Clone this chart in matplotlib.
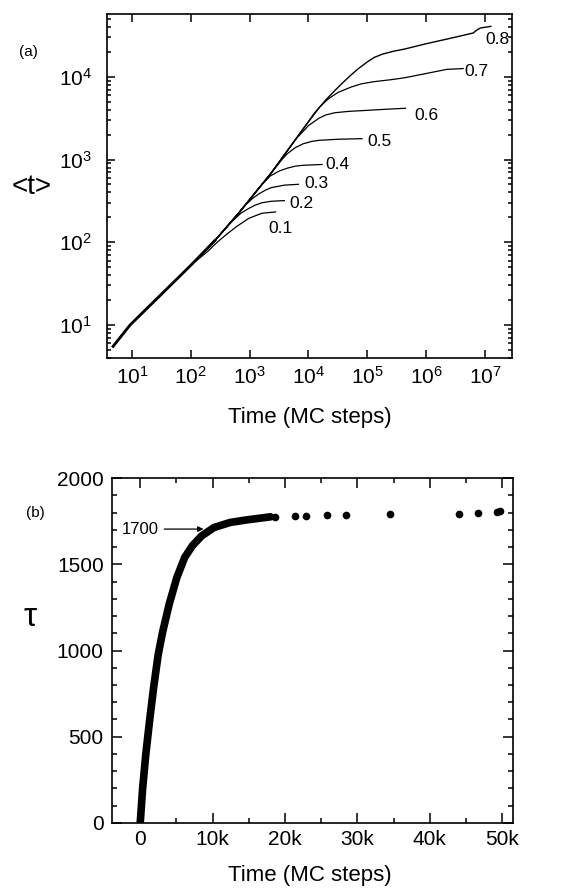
import numpy as np
import matplotlib
matplotlib.use("Agg")
import matplotlib.pyplot as plt
from matplotlib.ticker import MultipleLocator, FuncFormatter, FixedLocator, LogFormatterSciNotation

plt.rcParams["font.family"] = ["Liberation Sans", "DejaVu Sans"]

# ---- panel (a): log10(time) and log10(<t>) ----
# shared early part, continuing as the 0.8 curve
master_lx = [0.68, 0.97, 1.5, 2.0, 2.41, 2.83, 3.37, 3.91, 4.18, 4.3, 4.45, 4.6,
             4.72, 4.85, 4.99, 5.12, 5.26, 5.45, 5.63, 6.0, 6.5, 6.8, 6.85, 6.92, 7.1]
master_ly = [0.74, 1.0, 1.37, 1.72, 2.02, 2.365, 2.84, 3.37, 3.625, 3.725, 3.835, 3.94,
             4.02, 4.10, 4.175, 4.235, 4.275, 4.31, 4.335, 4.40, 4.48, 4.53, 4.56, 4.59, 4.61]

branch_lx = {
    "0.1": [2.29, 2.45, 2.6, 2.78, 2.99, 3.21, 3.44],
    "0.2": [2.70, 2.85, 2.99, 3.1, 3.21, 3.37, 3.59],
    "0.3": [2.90, 3.05, 3.16, 3.27, 3.37, 3.59, 3.83],
    "0.4": [3.20, 3.35, 3.5, 3.64, 3.78, 3.91, 4.23],
    "0.5": [3.45, 3.55, 3.64, 3.78, 3.91, 4.05, 4.18, 4.5, 4.91],
    "0.6": [3.80, 3.91, 4.0, 4.1, 4.18, 4.3, 4.45, 4.7, 4.99, 5.3, 5.65],
    "0.7": [4.0, 4.1, 4.2, 4.34, 4.5, 4.72, 4.9, 5.10, 5.4, 5.63, 6.0, 6.35, 6.63],
}
branch_ly = {
    "0.1": [1.89, 2.0, 2.09, 2.19, 2.29, 2.35, 2.366],
    "0.2": [2.25, 2.35, 2.41, 2.45, 2.477, 2.495, 2.503],
    "0.3": [2.43, 2.53, 2.585, 2.63, 2.66, 2.69, 2.70],
    "0.4": [2.69, 2.80, 2.86, 2.895, 2.92, 2.93, 2.94],
    "0.5": [2.91, 3.0, 3.07, 3.145, 3.19, 3.218, 3.232, 3.245, 3.252],
    "0.6": [3.26, 3.34, 3.41, 3.46, 3.50, 3.54, 3.566, 3.583, 3.594, 3.607, 3.62],
    "0.7": [3.46, 3.56, 3.64, 3.735, 3.81, 3.875, 3.915, 3.94, 3.965, 3.988, 4.04, 4.09, 4.10],
}
label_lx = {"0.1": 3.53, "0.2": 3.88, "0.3": 4.13, "0.4": 4.50, "0.5": 5.21,
            "0.6": 6.0, "0.7": 6.86, "0.8": 7.22}
label_ly = {"0.1": 2.16, "0.2": 2.47, "0.3": 2.71, "0.4": 2.94, "0.5": 3.22,
            "0.6": 3.53, "0.7": 4.06, "0.8": 4.45}

# ---- panel (b): tau vs time (MC steps) ----
dense_t = [0, 340, 770, 1290, 1850, 2490, 3130, 4000, 5060, 6140, 7200, 8500,
           10200, 12400, 14500, 16700, 18000]
dense_tau = [0, 203, 397, 591, 784, 978, 1113, 1268, 1423, 1539, 1607, 1665,
             1713, 1742, 1756, 1768, 1775]
sparse_t = [18600, 21400, 22900, 25800, 28500, 34500, 44100, 46600, 49300, 49700]
sparse_tau = [1774, 1777, 1779, 1783, 1787, 1791, 1793, 1797, 1803, 1809]

fig = plt.figure(figsize=(5.61, 8.90), dpi=100)
ax1 = fig.add_axes([0.1907, 0.5978, 0.7220, 0.3865])
ax2 = fig.add_axes([0.1996, 0.0753, 0.7148, 0.3876])

# panel (a)
mx = np.array(master_lx)
my = np.array(master_ly)
ax1.plot(10 ** mx, 10 ** my, color="black", lw=1.0)
ax1.plot(10 ** mx[:5], 10 ** my[:5], color="black", lw=2.0)
for key in branch_lx:
    bx = np.array(branch_lx[key])
    by = np.array(branch_ly[key])
    keep = mx < bx[0]
    xs = np.concatenate([mx[keep], bx])
    ys = np.concatenate([my[keep], by])
    ax1.plot(10 ** xs, 10 ** ys, color="black", lw=0.9)
for key in label_lx:
    ax1.text(10 ** label_lx[key], 10 ** label_ly[key], key, fontsize=12.5,
             ha="center", va="center")

ax1.set_xscale("log")
ax1.set_yscale("log")
ax1.set_xlim(10 ** 0.576, 10 ** 7.46)
ax1.set_ylim(10 ** 0.6, 10 ** 4.76)
ax1.xaxis.set_major_locator(FixedLocator([1e1, 1e2, 1e3, 1e4, 1e5, 1e6, 1e7]))
ax1.yaxis.set_major_locator(FixedLocator([1e1, 1e2, 1e3, 1e4]))
ax1.xaxis.set_major_formatter(LogFormatterSciNotation())
ax1.yaxis.set_major_formatter(LogFormatterSciNotation())
ax1.tick_params(which="both", direction="in", top=True, right=True, width=1.1)
ax1.tick_params(which="major", length=6, labelsize=15)
ax1.tick_params(which="minor", length=3)
ax1.tick_params(axis="x", pad=6)
ax1.tick_params(axis="y", pad=11)
for s in ax1.spines.values():
    s.set_linewidth(1.2)

# panel (b)
ax2.plot(dense_t, dense_tau, color="black", lw=5.5, solid_capstyle="round")
ax2.plot(sparse_t, sparse_tau, "o", color="black", ms=4.5)
ax2.annotate("1700", xy=(8750, 1704), xytext=(0, 1704), fontsize=12,
             ha="center", va="center",
             arrowprops=dict(arrowstyle="-|>", color="black", lw=0.9,
                             shrinkA=2, shrinkB=0, mutation_scale=8))
ax2.set_xlim(-3900, 51500)
ax2.set_ylim(0, 2000)
ax2.xaxis.set_major_locator(MultipleLocator(10000))
ax2.xaxis.set_minor_locator(MultipleLocator(5000))
ax2.yaxis.set_major_locator(MultipleLocator(500))
ax2.yaxis.set_minor_locator(MultipleLocator(100))
ax2.xaxis.set_major_formatter(FuncFormatter(lambda v, p: "0" if v == 0 else "%dk" % (v / 1000)))
ax2.tick_params(which="both", direction="in", top=True, right=True, width=1.1)
ax2.tick_params(which="major", length=7, labelsize=15)
ax2.tick_params(which="minor", length=3.5)
ax2.tick_params(axis="x", pad=5)
ax2.tick_params(axis="y", pad=6)
for s in ax2.spines.values():
    s.set_linewidth(1.2)

fig.text(28 / 561, 1 - 52 / 890, "(a)", fontsize=11, ha="center", va="center")
fig.text(35 / 561, 1 - 513 / 890, "(b)", fontsize=11, ha="center", va="center")
fig.text(32 / 561, 1 - 187 / 890, "<t>", fontsize=20, ha="center", va="center")
fig.text(30 / 561, 1 - 618 / 890, "τ", fontsize=24, ha="center", va="center")
fig.text(310 / 561, 1 - 418 / 890, "Time (MC steps)", fontsize=16, ha="center", va="center")
fig.text(310 / 561, 1 - 876 / 890, "Time (MC steps)", fontsize=16, ha="center", va="center")

fig.savefig("out.png", dpi=100)
